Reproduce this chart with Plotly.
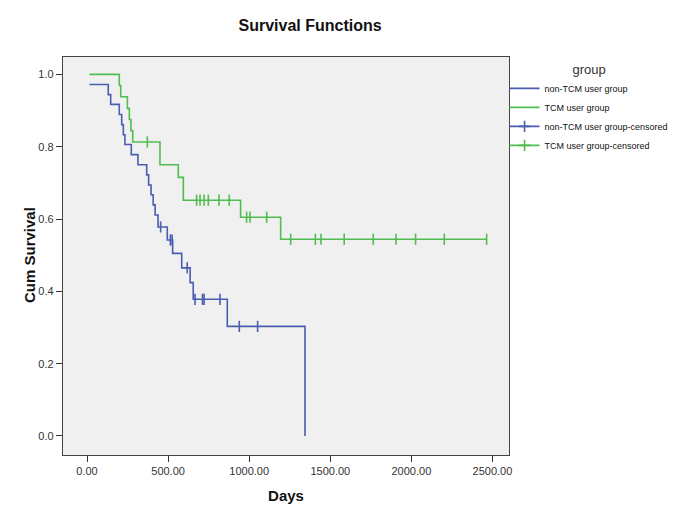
import plotly.graph_objects as go

# ---- data ----
# non-TCM user group: step times (days) and survival after each step
nontcm_days = [15, 131, 146, 199, 214, 224, 234, 273, 314, 368, 380, 395, 408, 420, 438, 495, 528, 584, 636, 655, 865, 1344]
nontcm_surv = [0.972, 0.944, 0.917, 0.889, 0.861, 0.833, 0.806, 0.778, 0.750, 0.722, 0.694, 0.667, 0.639, 0.611, 0.578, 0.542, 0.505, 0.465, 0.424, 0.378, 0.303, 0.0]
nontcm_cens_days = [454, 514, 525, 618, 666, 712, 722, 820, 939, 1052]
nontcm_cens_surv = [0.578, 0.542, 0.542, 0.465, 0.378, 0.378, 0.378, 0.378, 0.303, 0.303]

# TCM user group
tcm_days = [15, 199, 208, 249, 261, 271, 282, 450, 563, 594, 947, 1194, 2464]
tcm_surv = [1.0, 0.969, 0.938, 0.906, 0.875, 0.844, 0.813, 0.750, 0.715, 0.652, 0.605, 0.544, 0.544]
tcm_cens_days = [372, 676, 697, 722, 748, 814, 877, 984, 1005, 1108, 1256, 1408, 1443, 1586, 1765, 1905, 2026, 2203, 2464]
tcm_cens_surv = [0.813, 0.652, 0.652, 0.652, 0.652, 0.652, 0.652, 0.605, 0.605, 0.605, 0.544, 0.544, 0.544, 0.544, 0.544, 0.544, 0.544, 0.544, 0.544]

x_ticks = [0, 500, 1000, 1500, 2000, 2500]
x_tick_labels = ["0.00", "500.00", "1000.00", "1500.00", "2000.00", "2500.00"]
y_ticks = [0.0, 0.2, 0.4, 0.6, 0.8, 1.0]
y_tick_labels = ["0.0", "0.2", "0.4", "0.6", "0.8", "1.0"]

BLUE = "#4a5db0"
GREEN = "#50bd50"
FONT = "Liberation Sans, Arial, sans-serif"

fig = go.Figure()

fig.add_trace(go.Scatter(x=nontcm_days, y=nontcm_surv, mode="lines", line=dict(color=BLUE, width=1.6, shape="hv"),
                         name="non-TCM user group"))
fig.add_trace(go.Scatter(x=tcm_days, y=tcm_surv, mode="lines", line=dict(color=GREEN, width=1.6, shape="hv"),
                         name="TCM user group"))
fig.add_trace(go.Scatter(x=nontcm_cens_days, y=nontcm_cens_surv, mode="markers",
                         marker=dict(symbol="line-ns", size=8, line=dict(color=BLUE, width=1.6)),
                         showlegend=False, name="non-TCM user group-censored"))
fig.add_trace(go.Scatter(x=tcm_cens_days, y=tcm_cens_surv, mode="markers",
                         marker=dict(symbol="line-ns", size=8, line=dict(color=GREEN, width=1.6)),
                         showlegend=False, name="TCM user group-censored"))
# legend entries for censored marks (line with cross, as in the reference)
fig.add_trace(go.Scatter(x=[None], y=[None], mode="lines+markers", line=dict(color=BLUE, width=1.6),
                         marker=dict(symbol="cross-thin", size=8, line=dict(color=BLUE, width=1.6)),
                         name="non-TCM user group-censored"))
fig.add_trace(go.Scatter(x=[None], y=[None], mode="lines+markers", line=dict(color=GREEN, width=1.6),
                         marker=dict(symbol="cross-thin", size=8, line=dict(color=GREEN, width=1.6)),
                         name="TCM user group-censored"))

# page body has an 8px default margin, so the figure is sized 8px smaller
fig.update_layout(
    width=681, height=521,
    margin=dict(l=55, r=180, t=49, b=74),
    paper_bgcolor="white",
    plot_bgcolor="#f0f0f0",
    font=dict(family=FONT, color="#333333"),
    title=dict(text="<b>Survival Functions</b>", x=0.554, xref="paper", xanchor="center",
               y=0.967, yref="container", yanchor="middle",
               font=dict(size=16, color="#111111", family=FONT)),
    showlegend=True,
    legend=dict(x=0.99, xanchor="left", y=1.0, yanchor="top",
                title=dict(text="group", side="top center", font=dict(size=13, color="#333333")),
                font=dict(size=9, color="#111111"),
                itemwidth=30, tracegroupgap=0, bgcolor="rgba(0,0,0,0)"),
    annotations=[dict(text="<b>Cum Survival</b>", textangle=-90, xref="paper", yref="paper",
                      x=-0.0762, y=0.5025, xanchor="center", yanchor="middle", showarrow=False,
                      font=dict(size=15, color="#111111", family=FONT))],
)

fig.update_xaxes(
    range=[-148, 2602], tickvals=x_ticks, ticktext=x_tick_labels,
    ticks="outside", ticklen=6, tickwidth=1, tickcolor="#333333",
    showline=True, linecolor="#444444", linewidth=1.3, mirror=True,
    showgrid=False, zeroline=False, automargin=False,
    tickfont=dict(size=11, color="#333333"),
    title=dict(text="<b>Days</b>", font=dict(size=15, color="#111111"), standoff=14),
)
fig.update_yaxes(
    range=[-0.0526, 1.048], tickvals=y_ticks, ticktext=y_tick_labels,
    ticks="outside", ticklen=6, tickwidth=1, tickcolor="#333333",
    showline=True, linecolor="#444444", linewidth=1.3, mirror=True,
    showgrid=False, zeroline=False, automargin=False,
    tickfont=dict(size=11, color="#333333"),
)

fig.write_html("out.html")
